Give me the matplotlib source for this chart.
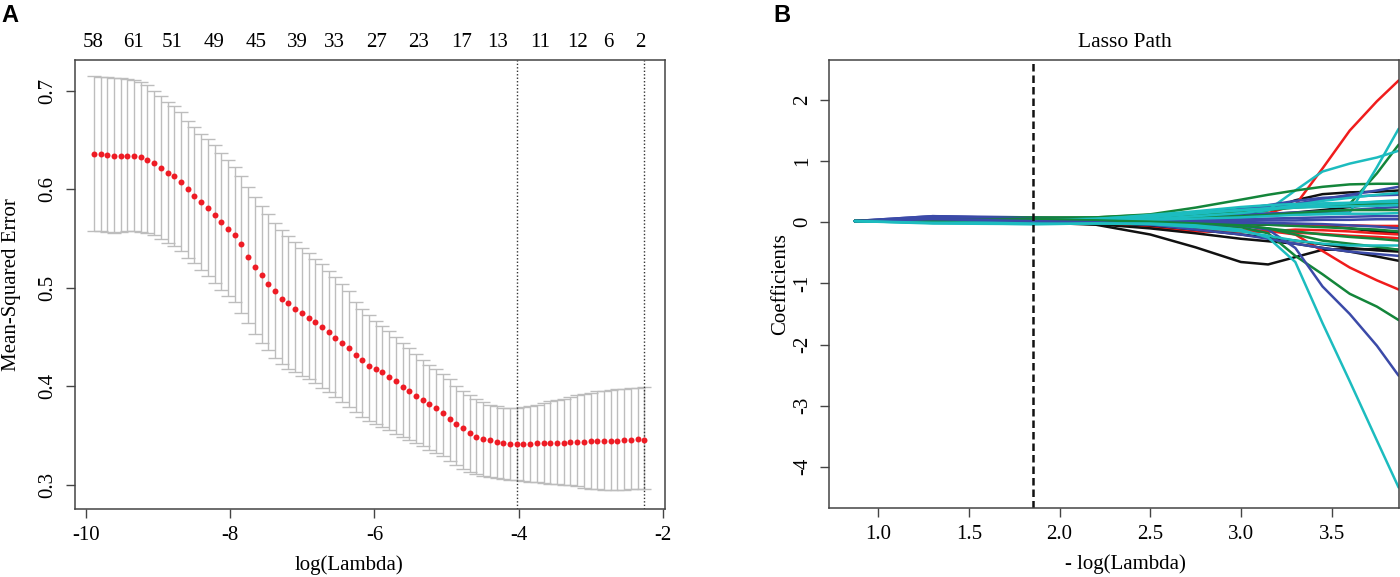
import matplotlib
matplotlib.use('Agg')
import matplotlib.pyplot as plt
import numpy as np

plt.rcParams['font.family'] = ['Liberation Serif', 'DejaVu Serif']
plt.rcParams['axes.unicode_minus'] = False

# ---------------- panel A : cross validation ----------------
log_lambda = np.linspace(-9.895, -2.255, 83)   # glmnet lambda grid (even in log)

mse_mean = [0.636, 0.636, 0.635, 0.634, 0.634, 0.634, 0.634, 0.633, 0.630, 0.627,
            0.621, 0.616, 0.613, 0.607, 0.600, 0.593, 0.587, 0.581, 0.574, 0.567,
            0.560, 0.553, 0.544, 0.531, 0.521, 0.513, 0.504, 0.497, 0.489, 0.484,
            0.478, 0.474, 0.469, 0.465, 0.460, 0.455, 0.449, 0.444, 0.439, 0.432,
            0.427, 0.421, 0.418, 0.414, 0.409, 0.405, 0.399, 0.395, 0.390, 0.386,
            0.382, 0.378, 0.373, 0.367, 0.362, 0.358, 0.353, 0.349, 0.347, 0.345,
            0.343, 0.342, 0.341, 0.341, 0.341, 0.341, 0.342, 0.342, 0.342, 0.342,
            0.342, 0.343, 0.343, 0.343, 0.344, 0.344, 0.344, 0.344, 0.344, 0.345,
            0.346, 0.347, 0.346]

mse_upper = [0.715, 0.714, 0.714, 0.713, 0.713, 0.712, 0.711, 0.709, 0.706, 0.700,
             0.694, 0.688, 0.684, 0.678, 0.669, 0.663, 0.656, 0.651, 0.645, 0.637,
             0.630, 0.622, 0.613, 0.602, 0.592, 0.583, 0.575, 0.566, 0.559, 0.552,
             0.546, 0.540, 0.535, 0.529, 0.524, 0.517, 0.511, 0.504, 0.497, 0.486,
             0.478, 0.472, 0.466, 0.461, 0.456, 0.450, 0.444, 0.439, 0.433, 0.427,
             0.422, 0.418, 0.412, 0.407, 0.400, 0.395, 0.391, 0.387, 0.384, 0.381,
             0.380, 0.378, 0.378, 0.378, 0.379, 0.380, 0.381, 0.383, 0.385, 0.386,
             0.387, 0.389, 0.391, 0.392, 0.393, 0.395, 0.395, 0.396, 0.397, 0.397,
             0.398, 0.398, 0.399]

mse_lower = [0.558, 0.558, 0.557, 0.556, 0.557, 0.558, 0.558, 0.557, 0.556, 0.553,
             0.549, 0.545, 0.542, 0.537, 0.530, 0.525, 0.518, 0.512, 0.505, 0.498,
             0.492, 0.485, 0.474, 0.464, 0.453, 0.444, 0.437, 0.429, 0.423, 0.418,
             0.414, 0.410, 0.407, 0.403, 0.398, 0.394, 0.389, 0.384, 0.379, 0.374,
             0.369, 0.365, 0.362, 0.359, 0.356, 0.352, 0.349, 0.346, 0.342, 0.339,
             0.335, 0.332, 0.329, 0.324, 0.320, 0.316, 0.313, 0.311, 0.309, 0.308,
             0.307, 0.306, 0.305, 0.305, 0.304, 0.303, 0.303, 0.302, 0.301, 0.301,
             0.300, 0.300, 0.299, 0.297, 0.296, 0.296, 0.295, 0.295, 0.295, 0.295,
             0.296, 0.296, 0.296]

lambda_min_idx = 63
lambda_1se_idx = 82

nz_pos = [-9.907, -9.338, -8.811, -8.222, -7.646, -7.064, -6.550, -5.974,
          -5.391, -4.796, -4.288, -3.700, -3.186, -2.759, -2.306]
nz_labels = ['58', '61', '51', '49', '45', '39', '33', '27',
             '23', '17', '13', '11', '12', '6', '2']

# ---------------- panel B : lasso path ----------------
x_knots = [0.87, 1.3, 1.85, 2.2, 2.5, 2.75, 3.0, 3.15, 3.3, 3.45, 3.6, 3.75, 3.87]
cut_line = 1.852

black_paths = [
    [0.02, 0.02, 0.00, 0.02, 0.05, 0.08, 0.12, 0.20, 0.36, 0.46, 0.49, 0.50, 0.52],
    [0.02, 0.01, 0.02, 0.03, 0.05, 0.07, 0.10, 0.13, 0.16, 0.20, 0.25, 0.30, 0.35],
    [0.02, 0.02, 0.01, 0.00, -0.01, -0.02, -0.03, -0.04, -0.05, -0.06, -0.10, -0.15, -0.18],
    [0.02, 0.02, 0.00, -0.04, -0.20, -0.41, -0.65, -0.69, -0.57, -0.45, -0.44, -0.44, -0.45],
    [0.02, 0.02, 0.00, -0.03, -0.10, -0.18, -0.27, -0.31, -0.35, -0.42, -0.48, -0.56, -0.63],
    [0.02, 0.01, 0.00, -0.01, -0.05, -0.12, -0.20, -0.25, -0.30, -0.36, -0.42, -0.46, -0.48],
]
red_paths = [
    [0.02, 0.03, 0.03, 0.04, 0.06, 0.08, 0.10, 0.15, 0.28, 0.88, 1.50, 1.98, 2.32],
    [0.02, 0.02, 0.01, -0.02, -0.06, -0.12, -0.14, -0.15, -0.17, -0.19, -0.22, -0.24, -0.26],
    [0.02, 0.02, 0.01, -0.01, -0.08, -0.15, -0.16, -0.15, -0.12, -0.13, -0.15, -0.18, -0.20],
    [0.02, 0.02, 0.02, 0.02, 0.02, 0.00, -0.02, -0.03, -0.04, -0.05, -0.05, -0.06, -0.06],
    [0.02, 0.02, 0.01, -0.01, -0.05, -0.10, -0.12, -0.14, -0.20, -0.47, -0.74, -0.95, -1.10],
]
green_paths = [
    [0.02, 0.04, 0.06, 0.08, 0.12, 0.16, 0.20, 0.22, 0.25, 0.28, 0.30, 0.80, 1.27],
    [0.02, 0.05, 0.08, 0.08, 0.13, 0.24, 0.37, 0.45, 0.52, 0.58, 0.62, 0.63, 0.63],
    [0.02, 0.04, 0.06, 0.06, 0.08, 0.12, 0.16, 0.20, 0.24, 0.27, 0.29, 0.30, 0.30],
    [0.02, 0.03, 0.05, 0.05, 0.06, 0.08, 0.10, 0.12, 0.15, 0.18, 0.20, 0.20, 0.20],
    [0.02, 0.03, 0.04, 0.03, 0.02, 0.00, -0.02, -0.04, -0.06, -0.08, -0.10, -0.12, -0.15],
    [0.02, 0.03, 0.05, 0.03, 0.00, -0.04, -0.08, -0.18, -0.55, -0.85, -1.17, -1.38, -1.60],
    [0.02, 0.03, 0.04, 0.02, 0.00, -0.03, -0.06, -0.10, -0.15, -0.20, -0.24, -0.27, -0.30],
    [0.02, 0.03, 0.05, 0.03, 0.01, -0.02, -0.05, -0.10, -0.20, -0.30, -0.35, -0.40, -0.45],
]
blue_paths = [
    [0.02, 0.10, 0.08, 0.06, 0.10, 0.15, 0.20, 0.25, 0.30, 0.38, 0.45, 0.52, 0.58],
    [0.02, 0.10, 0.06, 0.05, 0.08, 0.14, 0.22, 0.28, 0.35, 0.40, 0.42, 0.44, 0.45],
    [0.02, 0.08, 0.05, 0.04, 0.05, 0.08, 0.12, 0.14, 0.16, 0.18, 0.20, 0.23, 0.25],
    [0.02, 0.06, 0.04, 0.03, 0.03, 0.04, 0.05, 0.06, 0.07, 0.08, 0.09, 0.10, 0.10],
    [0.02, 0.05, 0.03, 0.02, 0.02, 0.02, 0.02, 0.03, 0.03, 0.04, 0.04, 0.05, 0.05],
    [0.02, 0.04, 0.02, 0.01, 0.00, 0.00, -0.01, -0.01, -0.02, -0.03, -0.05, -0.07, -0.10],
    [0.02, 0.06, 0.03, 0.00, -0.02, -0.03, -0.05, -0.12, -0.42, -1.05, -1.50, -2.02, -2.51],
    [0.02, 0.05, 0.02, 0.00, -0.04, -0.12, -0.20, -0.27, -0.35, -0.42, -0.48, -0.52, -0.55],
]
cyan_paths = [
    [0.02, 0.00, -0.02, 0.00, 0.02, 0.04, 0.06, 0.20, 0.52, 0.83, 0.96, 1.06, 1.17],
    [0.02, 0.00, -0.01, 0.02, 0.06, 0.10, 0.13, 0.14, 0.15, 0.15, 0.16, 0.90, 1.53],
    [0.02, 0.00, 0.02, 0.05, 0.12, 0.18, 0.25, 0.28, 0.30, 0.31, 0.32, 0.33, 0.33],
    [0.02, -0.01, 0.00, 0.03, 0.08, 0.14, 0.20, 0.23, 0.26, 0.28, 0.31, 0.34, 0.36],
    [0.02, 0.01, 0.03, 0.06, 0.10, 0.16, 0.20, 0.22, 0.24, 0.25, 0.26, 0.27, 0.28],
    [0.02, 0.00, 0.01, 0.02, 0.04, 0.06, 0.08, 0.10, 0.12, 0.13, 0.14, 0.14, 0.15],
    [0.02, 0.00, 0.00, 0.02, 0.05, 0.10, 0.15, 0.20, 0.28, 0.35, 0.40, 0.45, 0.48],
    [0.02, -0.02, -0.03, -0.02, -0.03, -0.08, -0.15, -0.22, -0.30, -0.35, -0.38, -0.38, -0.38],
    [0.02, -0.01, -0.03, -0.02, -0.02, -0.05, -0.12, -0.25, -0.65, -1.65, -2.60, -3.57, -4.34],
]
path_colors = {'black': '#111111', 'red': '#f01c1c', 'green': '#13853a',
               'blue': '#3b4aa8', 'cyan': '#1cbcbf'}

# ---------------- figure ----------------
fig = plt.figure(figsize=(14, 5.77), dpi=100)
axA = fig.add_axes([0.0533, 0.1187, 0.4219, 0.7773])
axB = fig.add_axes([0.5924, 0.1201, 0.4069, 0.7759])

for ax in (axA, axB):
    for sp in ax.spines.values():
        sp.set_color('#444444')
        sp.set_linewidth(1.1)
    ax.tick_params(direction='out', length=6.5, width=1.0, color='#444444',
                   labelsize=15, pad=6)
    ax.tick_params(axis='y', labelrotation=90)

# panel A
yerr = [np.array(mse_mean) - np.array(mse_lower), np.array(mse_upper) - np.array(mse_mean)]
axA.errorbar(log_lambda, mse_mean, yerr=yerr, fmt='none', ecolor='#bdbdbd',
             elinewidth=1.0, capsize=5, capthick=1.0, zorder=1)
axA.plot(log_lambda, mse_mean, 'o', color='#ee1c25', markersize=4.3,
         markeredgewidth=0, zorder=3)
axA.axvline(log_lambda[lambda_min_idx], color='#333333', linestyle=(0, (1, 1.5)), lw=1.0)
axA.axvline(log_lambda[lambda_1se_idx], color='#333333', linestyle=(0, (1, 1.5)), lw=1.0)
axA.set_xlim(-10.161, -1.964)
axA.set_ylim(0.276, 0.731)
axA.set_xticks([-10, -8, -6, -4, -2])
axA.set_yticks([0.3, 0.4, 0.5, 0.6, 0.7])
for lab in axA.get_yticklabels():
    lab.set_va('center')
for p, lab in zip(nz_pos, nz_labels):
    axA.text(p, 1.040, lab, transform=axA.get_xaxis_transform(), ha='center',
             va='center', fontsize=15)
axA.set_xlabel('log(Lambda)', fontsize=15)
axA.xaxis.set_label_coords(0.465, -0.104)
axA.set_ylabel('Mean-Squared Error', fontsize=15)
axA.yaxis.set_label_coords(-0.090, 0.5)

# panel B
groups = [('black', black_paths), ('red', red_paths), ('green', green_paths),
          ('blue', blue_paths), ('cyan', cyan_paths)]
max_len = max(len(g[1]) for g in groups)
for i in range(max_len):
    for name, paths in groups:
        if i < len(paths):
            axB.plot(x_knots, paths[i], color=path_colors[name], lw=1.8,
                     solid_capstyle='round', solid_joinstyle='round')
axB.axvline(cut_line, color='#111111', lw=1.8, linestyle=(0, (3, 1.6)))
axB.set_xlim(0.730, 3.872)
axB.set_ylim(-4.67, 2.655)
axB.set_xticks([1.0, 1.5, 2.0, 2.5, 3.0, 3.5])
axB.set_xticklabels(['1.0', '1.5', '2.0', '2.5', '3.0', '3.5'])
axB.set_yticks([-4, -3, -2, -1, 0, 1, 2])
axB.set_yticklabels(['-4', '-3', '-2', '-1', '0', '1', '2'])
for lab in axB.get_yticklabels():
    lab.set_va('center')
axB.text(0.519, 1.040, 'Lasso Path', transform=axB.transAxes, ha='center',
         va='center', fontsize=15.5)
axB.set_xlabel('- log(Lambda)', fontsize=15)
axB.xaxis.set_label_coords(0.519, -0.104)
axB.set_ylabel('Coefficients', fontsize=15)
axB.yaxis.set_label_coords(-0.068, 0.5)

fig.text(0.0007, 0.974, 'A', fontsize=17, fontweight='bold', family='Liberation Sans',
         ha='left', va='center')
fig.text(0.5586, 0.973, 'B', fontsize=17, fontweight='bold', family='Liberation Sans',
         ha='center', va='center')

fig.savefig('out.png', dpi=100)
